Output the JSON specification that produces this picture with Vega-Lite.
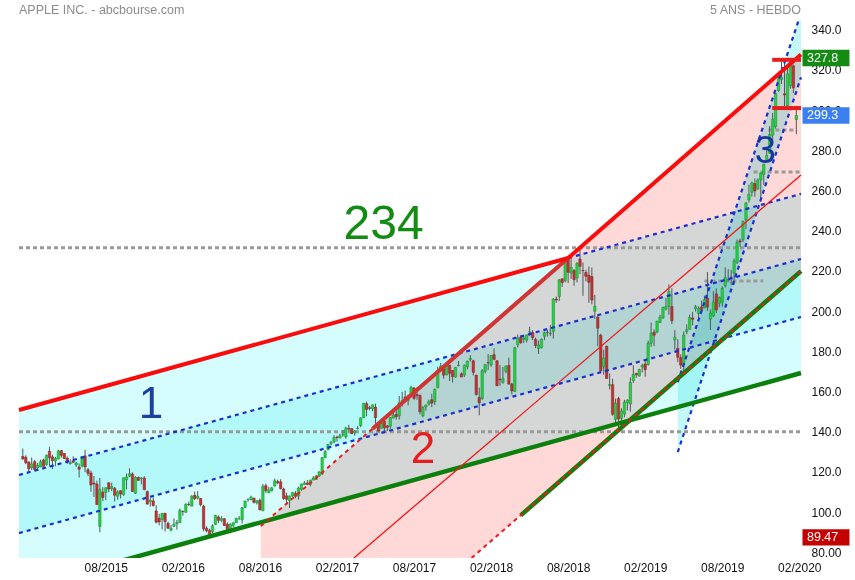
{
"$schema":"https://vega.github.io/schema/vega-lite/v6.json",
"width":792,"height":538,
"autosize":{"type":"none"},
"padding":{"left":14,"top":20,"right":49,"bottom":22},
"background":"white",
"config":{"view":{"stroke":null},"font":"Liberation Sans"},
"datasets":{
"candles":[
{"d":"2015-02-23","o":129.7,"h":133.6,"l":128.0,"c":128.5},
{"d":"2015-03-02","o":129.3,"h":130.3,"l":125.8,"c":126.6},
{"d":"2015-03-09","o":127.0,"h":127.2,"l":121.6,"c":123.6},
{"d":"2015-03-16","o":124.0,"h":129.2,"l":122.9,"c":126.0},
{"d":"2015-03-23","o":127.1,"h":128.0,"l":122.6,"c":123.3},
{"d":"2015-03-30","o":124.0,"h":126.5,"l":122.9,"c":125.3},
{"d":"2015-04-06","o":124.5,"h":128.1,"l":124.3,"c":127.1},
{"d":"2015-04-13","o":128.0,"h":128.6,"l":124.6,"c":124.8},
{"d":"2015-04-20","o":125.6,"h":130.6,"l":125.2,"c":130.3},
{"d":"2015-04-27","o":132.3,"h":134.5,"l":124.6,"c":129.0},
{"d":"2015-05-04","o":129.5,"h":130.6,"l":123.4,"c":127.6},
{"d":"2015-05-11","o":127.4,"h":129.5,"l":124.8,"c":128.8},
{"d":"2015-05-18","o":128.4,"h":133.0,"l":128.4,"c":132.5},
{"d":"2015-05-25","o":132.6,"h":132.9,"l":129.1,"c":130.3},
{"d":"2015-06-01","o":131.2,"h":131.4,"l":128.4,"c":128.7},
{"d":"2015-06-08","o":128.9,"h":129.7,"l":126.0,"c":127.2},
{"d":"2015-06-15","o":126.1,"h":128.3,"l":125.7,"c":126.6},
{"d":"2015-06-22","o":127.5,"h":129.8,"l":126.4,"c":126.8},
{"d":"2015-06-29","o":125.5,"h":127.0,"l":124.5,"c":126.4},
{"d":"2015-07-06","o":124.5,"h":126.2,"l":119.2,"c":123.3},
{"d":"2015-07-13","o":125.0,"h":129.6,"l":124.3,"c":129.6},
{"d":"2015-07-20","o":130.0,"h":133.0,"l":121.9,"c":124.5},
{"d":"2015-07-27","o":123.1,"h":124.0,"l":119.9,"c":121.3},
{"d":"2015-08-03","o":121.5,"h":122.6,"l":112.1,"c":115.5},
{"d":"2015-08-10","o":116.5,"h":120.0,"l":109.6,"c":116.0},
{"d":"2015-08-17","o":116.0,"h":117.7,"l":105.5,"c":105.8},
{"d":"2015-08-24","o":94.9,"h":119.0,"l":92.0,"c":113.3},
{"d":"2015-08-31","o":112.0,"h":114.4,"l":107.4,"c":109.3},
{"d":"2015-09-07","o":111.8,"h":114.2,"l":108.0,"c":114.2},
{"d":"2015-09-14","o":116.6,"h":116.9,"l":111.9,"c":113.5},
{"d":"2015-09-21","o":113.7,"h":116.7,"l":112.4,"c":114.7},
{"d":"2015-09-28","o":113.9,"h":114.6,"l":107.3,"c":110.4},
{"d":"2015-10-05","o":109.9,"h":112.8,"l":108.2,"c":112.1},
{"d":"2015-10-12","o":112.7,"h":112.8,"l":108.8,"c":111.0},
{"d":"2015-10-19","o":110.8,"h":119.2,"l":110.1,"c":119.1},
{"d":"2015-10-26","o":118.1,"h":121.2,"l":113.3,"c":119.5},
{"d":"2015-11-02","o":119.9,"h":123.8,"l":119.4,"c":121.1},
{"d":"2015-11-09","o":121.0,"h":121.8,"l":112.1,"c":112.3},
{"d":"2015-11-16","o":111.4,"h":119.9,"l":111.0,"c":119.3},
{"d":"2015-11-23","o":119.3,"h":119.7,"l":117.5,"c":117.8},
{"d":"2015-11-30","o":118.8,"h":119.4,"l":115.8,"c":119.0},
{"d":"2015-12-07","o":119.0,"h":119.9,"l":112.9,"c":113.2},
{"d":"2015-12-14","o":112.2,"h":112.8,"l":105.8,"c":106.0},
{"d":"2015-12-21","o":107.3,"h":109.0,"l":104.8,"c":108.0},
{"d":"2015-12-28","o":107.6,"h":109.4,"l":104.8,"c":105.3},
{"d":"2016-01-04","o":102.6,"h":105.4,"l":96.4,"c":97.0},
{"d":"2016-01-11","o":99.0,"h":101.2,"l":95.4,"c":97.1},
{"d":"2016-01-18","o":98.4,"h":101.5,"l":93.4,"c":101.4},
{"d":"2016-01-25","o":101.5,"h":101.5,"l":92.4,"c":97.3},
{"d":"2016-02-01","o":96.5,"h":97.3,"l":93.7,"c":94.0},
{"d":"2016-02-08","o":93.1,"h":95.7,"l":92.4,"c":94.0},
{"d":"2016-02-15","o":95.0,"h":98.9,"l":94.6,"c":96.0},
{"d":"2016-02-22","o":96.3,"h":98.1,"l":93.3,"c":96.9},
{"d":"2016-02-29","o":96.9,"h":103.8,"l":96.7,"c":103.0},
{"d":"2016-03-07","o":102.4,"h":102.8,"l":100.2,"c":102.3},
{"d":"2016-03-14","o":101.9,"h":106.5,"l":101.8,"c":105.9},
{"d":"2016-03-21","o":105.9,"h":107.3,"l":105.1,"c":105.7},
{"d":"2016-03-28","o":105.0,"h":110.4,"l":104.9,"c":110.0},
{"d":"2016-04-04","o":110.4,"h":112.2,"l":108.0,"c":108.7},
{"d":"2016-04-11","o":109.0,"h":112.4,"l":108.3,"c":109.9},
{"d":"2016-04-18","o":108.9,"h":109.0,"l":104.9,"c":105.7},
{"d":"2016-04-25","o":105.0,"h":105.7,"l":92.5,"c":93.7},
{"d":"2016-05-02","o":94.0,"h":95.0,"l":92.0,"c":92.7},
{"d":"2016-05-09","o":93.0,"h":93.8,"l":89.47,"c":90.5},
{"d":"2016-05-16","o":92.4,"h":95.9,"l":91.4,"c":95.2},
{"d":"2016-05-23","o":95.9,"h":100.7,"l":95.6,"c":100.35},
{"d":"2016-05-30","o":99.6,"h":100.4,"l":96.6,"c":97.9},
{"d":"2016-06-06","o":98.0,"h":100.0,"l":97.0,"c":98.8},
{"d":"2016-06-13","o":98.7,"h":99.1,"l":95.3,"c":95.3},
{"d":"2016-06-20","o":96.0,"h":96.9,"l":91.5,"c":93.4},
{"d":"2016-06-27","o":93.0,"h":96.5,"l":91.5,"c":95.9},
{"d":"2016-07-04","o":95.4,"h":96.9,"l":94.4,"c":96.7},
{"d":"2016-07-11","o":96.75,"h":99.3,"l":96.7,"c":98.8},
{"d":"2016-07-18","o":98.7,"h":100.1,"l":98.3,"c":98.7},
{"d":"2016-07-25","o":98.25,"h":104.6,"l":96.4,"c":104.2},
{"d":"2016-08-01","o":104.4,"h":107.7,"l":104.0,"c":107.5},
{"d":"2016-08-08","o":108.2,"h":108.9,"l":107.2,"c":108.2},
{"d":"2016-08-15","o":108.1,"h":110.2,"l":108.1,"c":109.4},
{"d":"2016-08-22","o":108.9,"h":109.3,"l":106.3,"c":106.9},
{"d":"2016-08-29","o":106.6,"h":108.0,"l":105.8,"c":107.7},
{"d":"2016-09-05","o":107.9,"h":108.8,"l":102.95,"c":103.1},
{"d":"2016-09-12","o":102.65,"h":116.0,"l":102.5,"c":114.9},
{"d":"2016-09-19","o":115.2,"h":116.2,"l":111.5,"c":112.7},
{"d":"2016-09-26","o":111.6,"h":114.6,"l":111.55,"c":113.05},
{"d":"2016-10-03","o":112.7,"h":114.6,"l":112.3,"c":114.1},
{"d":"2016-10-10","o":115.0,"h":118.7,"l":114.7,"c":117.6},
{"d":"2016-10-17","o":117.3,"h":118.2,"l":115.9,"c":116.6},
{"d":"2016-10-24","o":117.1,"h":118.4,"l":113.3,"c":113.7},
{"d":"2016-10-31","o":113.5,"h":114.2,"l":108.1,"c":108.8},
{"d":"2016-11-07","o":110.1,"h":111.7,"l":105.8,"c":108.4},
{"d":"2016-11-14","o":107.7,"h":110.2,"l":104.1,"c":110.1},
{"d":"2016-11-21","o":110.1,"h":112.0,"l":109.6,"c":111.8},
{"d":"2016-11-28","o":111.4,"h":112.5,"l":108.9,"c":109.9},
{"d":"2016-12-05","o":110.0,"h":114.7,"l":108.2,"c":114.0},
{"d":"2016-12-12","o":113.3,"h":116.2,"l":112.5,"c":116.0},
{"d":"2016-12-19","o":115.8,"h":117.5,"l":115.6,"c":116.5},
{"d":"2016-12-26","o":116.5,"h":118.0,"l":115.4,"c":115.8},
{"d":"2017-01-02","o":115.8,"h":118.2,"l":114.8,"c":117.9},
{"d":"2017-01-09","o":117.95,"h":119.9,"l":117.9,"c":119.0},
{"d":"2017-01-16","o":118.3,"h":120.5,"l":118.2,"c":120.0},
{"d":"2017-01-23","o":120.0,"h":122.4,"l":119.5,"c":122.0},
{"d":"2017-01-30","o":120.9,"h":129.4,"l":120.6,"c":129.1},
{"d":"2017-02-06","o":129.1,"h":132.9,"l":128.9,"c":132.1},
{"d":"2017-02-13","o":133.1,"h":135.9,"l":132.8,"c":135.7},
{"d":"2017-02-20","o":136.2,"h":137.5,"l":135.3,"c":136.7},
{"d":"2017-02-27","o":137.1,"h":140.3,"l":136.3,"c":139.1},
{"d":"2017-03-06","o":139.4,"h":140.0,"l":137.05,"c":139.1},
{"d":"2017-03-13","o":138.85,"h":141.0,"l":138.8,"c":140.0},
{"d":"2017-03-20","o":140.4,"h":142.8,"l":139.6,"c":140.6},
{"d":"2017-03-27","o":139.4,"h":144.5,"l":138.6,"c":143.7},
{"d":"2017-04-03","o":143.7,"h":145.5,"l":142.2,"c":143.3},
{"d":"2017-04-10","o":143.6,"h":143.9,"l":140.9,"c":141.05},
{"d":"2017-04-17","o":141.5,"h":142.9,"l":140.1,"c":142.3},
{"d":"2017-04-24","o":143.5,"h":144.9,"l":143.2,"c":143.65},
{"d":"2017-05-01","o":145.1,"h":149.0,"l":144.3,"c":148.96},
{"d":"2017-05-08","o":149.0,"h":156.4,"l":149.0,"c":156.1},
{"d":"2017-05-15","o":156.0,"h":157.0,"l":149.7,"c":153.1},
{"d":"2017-05-22","o":154.0,"h":154.9,"l":152.6,"c":153.6},
{"d":"2017-05-29","o":153.4,"h":155.45,"l":152.2,"c":155.45},
{"d":"2017-06-05","o":154.3,"h":156.0,"l":146.0,"c":149.0},
{"d":"2017-06-12","o":145.7,"h":146.1,"l":142.2,"c":142.3},
{"d":"2017-06-19","o":143.7,"h":147.2,"l":143.7,"c":146.3},
{"d":"2017-06-26","o":147.2,"h":148.3,"l":142.3,"c":144.0},
{"d":"2017-07-03","o":144.9,"h":145.3,"l":142.4,"c":144.2},
{"d":"2017-07-10","o":144.7,"h":149.3,"l":143.4,"c":149.0},
{"d":"2017-07-17","o":148.8,"h":151.7,"l":148.7,"c":150.3},
{"d":"2017-07-24","o":150.6,"h":154.0,"l":148.1,"c":149.5},
{"d":"2017-07-31","o":149.9,"h":159.75,"l":148.1,"c":156.4},
{"d":"2017-08-07","o":157.1,"h":161.8,"l":154.6,"c":157.5},
{"d":"2017-08-14","o":159.3,"h":162.5,"l":156.7,"c":157.5},
{"d":"2017-08-21","o":157.5,"h":160.5,"l":155.1,"c":159.9},
{"d":"2017-08-28","o":160.1,"h":164.9,"l":159.9,"c":164.05},
{"d":"2017-09-04","o":163.75,"h":164.25,"l":157.9,"c":158.6},
{"d":"2017-09-11","o":160.5,"h":164.0,"l":157.9,"c":159.9},
{"d":"2017-09-18","o":160.1,"h":160.5,"l":150.6,"c":151.9},
{"d":"2017-09-25","o":150.0,"h":154.7,"l":149.2,"c":154.1},
{"d":"2017-10-02","o":154.3,"h":155.5,"l":152.5,"c":155.3},
{"d":"2017-10-09","o":155.8,"h":158.0,"l":155.0,"c":157.0},
{"d":"2017-10-16","o":157.9,"h":160.9,"l":154.2,"c":156.25},
{"d":"2017-10-23","o":156.9,"h":163.6,"l":155.3,"c":163.05},
{"d":"2017-10-30","o":163.9,"h":174.3,"l":163.7,"c":172.5},
{"d":"2017-11-06","o":172.4,"h":176.2,"l":171.7,"c":174.7},
{"d":"2017-11-13","o":173.5,"h":174.5,"l":168.4,"c":170.15},
{"d":"2017-11-20","o":170.3,"h":175.5,"l":170.1,"c":175.0},
{"d":"2017-11-27","o":175.05,"h":175.1,"l":167.2,"c":171.05},
{"d":"2017-12-04","o":172.5,"h":172.6,"l":166.5,"c":169.4},
{"d":"2017-12-11","o":169.2,"h":174.2,"l":168.9,"c":174.0},
{"d":"2017-12-18","o":174.9,"h":177.2,"l":174.5,"c":175.0},
{"d":"2017-12-25","o":170.8,"h":171.5,"l":169.2,"c":169.2},
{"d":"2018-01-01","o":170.2,"h":175.4,"l":169.3,"c":175.0},
{"d":"2018-01-08","o":174.35,"h":177.4,"l":173.0,"c":177.1},
{"d":"2018-01-15","o":177.9,"h":180.1,"l":176.9,"c":178.5},
{"d":"2018-01-22","o":177.3,"h":177.8,"l":170.0,"c":171.5},
{"d":"2018-01-29","o":170.2,"h":170.2,"l":160.0,"c":160.5},
{"d":"2018-02-05","o":159.1,"h":163.9,"l":150.2,"c":156.4},
{"d":"2018-02-12","o":158.5,"h":173.1,"l":157.9,"c":172.4},
{"d":"2018-02-19","o":172.05,"h":174.8,"l":171.0,"c":175.5},
{"d":"2018-02-26","o":176.35,"h":180.6,"l":172.7,"c":176.2},
{"d":"2018-03-05","o":175.2,"h":180.0,"l":174.3,"c":180.0},
{"d":"2018-03-12","o":180.3,"h":183.5,"l":177.6,"c":178.0},
{"d":"2018-03-19","o":177.3,"h":177.5,"l":164.9,"c":164.9},
{"d":"2018-03-26","o":168.1,"h":175.2,"l":164.9,"c":167.8},
{"d":"2018-04-02","o":166.6,"h":174.2,"l":165.9,"c":168.4},
{"d":"2018-04-09","o":172.0,"h":175.0,"l":171.0,"c":174.7},
{"d":"2018-04-16","o":175.0,"h":178.9,"l":165.5,"c":165.7},
{"d":"2018-04-23","o":165.7,"h":166.3,"l":160.6,"c":162.3},
{"d":"2018-04-30","o":162.1,"h":184.25,"l":161.8,"c":183.8},
{"d":"2018-05-07","o":185.3,"h":190.4,"l":184.0,"c":188.6},
{"d":"2018-05-14","o":189.0,"h":189.5,"l":185.7,"c":186.3},
{"d":"2018-05-21","o":188.0,"h":189.7,"l":186.1,"c":188.6},
{"d":"2018-05-28","o":187.6,"h":190.3,"l":186.4,"c":190.2},
{"d":"2018-06-04","o":191.6,"h":194.2,"l":189.6,"c":191.7},
{"d":"2018-06-11","o":191.35,"h":192.6,"l":187.6,"c":188.8},
{"d":"2018-06-18","o":187.9,"h":188.8,"l":183.6,"c":184.9},
{"d":"2018-06-25","o":183.4,"h":187.3,"l":180.7,"c":185.1},
{"d":"2018-07-02","o":183.8,"h":188.4,"l":183.4,"c":188.0},
{"d":"2018-07-09","o":189.5,"h":191.8,"l":187.6,"c":191.3},
{"d":"2018-07-16","o":191.5,"h":192.65,"l":189.3,"c":191.4},
{"d":"2018-07-23","o":190.7,"h":195.0,"l":189.6,"c":191.0},
{"d":"2018-07-30","o":191.9,"h":208.4,"l":188.3,"c":208.0},
{"d":"2018-08-06","o":208.0,"h":209.3,"l":206.1,"c":207.5},
{"d":"2018-08-13","o":209.3,"h":217.95,"l":207.0,"c":217.6},
{"d":"2018-08-20","o":218.1,"h":218.2,"l":214.0,"c":216.2},
{"d":"2018-08-27","o":217.15,"h":228.9,"l":216.3,"c":227.6},
{"d":"2018-09-03","o":228.4,"h":229.2,"l":216.0,"c":221.3},
{"d":"2018-09-10","o":220.95,"h":229.4,"l":218.0,"c":223.8},
{"d":"2018-09-17","o":222.15,"h":222.95,"l":214.6,"c":217.7},
{"d":"2018-09-24","o":218.5,"h":226.4,"l":216.3,"c":225.7},
{"d":"2018-10-01","o":227.95,"h":233.47,"l":220.4,"c":224.3},
{"d":"2018-10-08","o":222.2,"h":226.2,"l":209.6,"c":222.1},
{"d":"2018-10-15","o":221.2,"h":222.6,"l":216.8,"c":219.3},
{"d":"2018-10-22","o":219.8,"h":224.2,"l":206.1,"c":216.3},
{"d":"2018-10-29","o":219.2,"h":223.7,"l":205.4,"c":207.5},
{"d":"2018-11-05","o":201.9,"h":210.1,"l":198.2,"c":204.5},
{"d":"2018-11-12","o":199.0,"h":199.85,"l":184.5,"c":193.5},
{"d":"2018-11-19","o":190.0,"h":190.7,"l":172.1,"c":172.3},
{"d":"2018-11-26","o":174.2,"h":182.8,"l":170.3,"c":178.6},
{"d":"2018-12-03","o":184.5,"h":184.9,"l":168.3,"c":168.5},
{"d":"2018-12-10","o":165.0,"h":171.0,"l":163.0,"c":165.5},
{"d":"2018-12-17","o":165.45,"h":168.35,"l":150.0,"c":150.7},
{"d":"2018-12-24","o":148.15,"h":158.5,"l":146.6,"c":156.2},
{"d":"2018-12-31","o":158.5,"h":159.4,"l":142.0,"c":148.3},
{"d":"2019-01-07","o":148.7,"h":153.7,"l":145.8,"c":152.3},
{"d":"2019-01-14","o":150.85,"h":157.9,"l":149.2,"c":156.8},
{"d":"2019-01-21","o":156.4,"h":158.1,"l":152.6,"c":157.8},
{"d":"2019-01-28","o":155.8,"h":169.0,"l":152.0,"c":166.5},
{"d":"2019-02-04","o":167.4,"h":175.1,"l":166.3,"c":170.4},
{"d":"2019-02-11","o":171.05,"h":171.2,"l":168.8,"c":170.4},
{"d":"2019-02-18","o":169.7,"h":173.3,"l":169.5,"c":173.0},
{"d":"2019-02-25","o":174.2,"h":175.9,"l":171.5,"c":175.0},
{"d":"2019-03-04","o":175.7,"h":177.75,"l":169.4,"c":172.9},
{"d":"2019-03-11","o":175.5,"h":187.3,"l":174.9,"c":186.1},
{"d":"2019-03-18","o":186.0,"h":196.3,"l":184.3,"c":191.05},
{"d":"2019-03-25","o":191.5,"h":192.9,"l":184.6,"c":190.0},
{"d":"2019-04-01","o":191.6,"h":197.1,"l":191.0,"c":197.0},
{"d":"2019-04-08","o":196.4,"h":200.2,"l":196.2,"c":198.9},
{"d":"2019-04-15","o":198.6,"h":204.15,"l":198.2,"c":203.9},
{"d":"2019-04-22","o":203.0,"h":208.5,"l":202.3,"c":204.3},
{"d":"2019-04-29","o":204.4,"h":215.3,"l":200.2,"c":211.75},
{"d":"2019-05-06","o":204.3,"h":213.4,"l":195.6,"c":197.2},
{"d":"2019-05-13","o":187.7,"h":192.5,"l":182.8,"c":189.0},
{"d":"2019-05-20","o":183.5,"h":188.0,"l":176.6,"c":179.0},
{"d":"2019-05-27","o":178.9,"h":180.6,"l":173.3,"c":175.1},
{"d":"2019-06-03","o":175.6,"h":191.9,"l":170.3,"c":190.15},
{"d":"2019-06-10","o":191.8,"h":195.4,"l":190.5,"c":192.7},
{"d":"2019-06-17","o":192.9,"h":200.3,"l":192.8,"c":198.8},
{"d":"2019-06-24","o":198.6,"h":201.6,"l":194.9,"c":197.9},
{"d":"2019-07-01","o":203.2,"h":205.1,"l":201.8,"c":204.2},
{"d":"2019-07-08","o":200.8,"h":204.4,"l":198.65,"c":203.3},
{"d":"2019-07-15","o":204.1,"h":207.2,"l":201.8,"c":202.6},
{"d":"2019-07-22","o":203.65,"h":209.7,"l":203.4,"c":207.7},
{"d":"2019-07-29","o":208.5,"h":221.4,"l":202.1,"c":204.0},
{"d":"2019-08-05","o":198.0,"h":202.8,"l":192.6,"c":201.0},
{"d":"2019-08-12","o":199.6,"h":212.1,"l":199.0,"c":206.5},
{"d":"2019-08-19","o":210.6,"h":213.35,"l":201.0,"c":202.6},
{"d":"2019-08-26","o":205.9,"h":209.3,"l":203.9,"c":208.7},
{"d":"2019-09-02","o":206.4,"h":214.4,"l":204.2,"c":213.3},
{"d":"2019-09-09","o":214.8,"h":223.7,"l":213.7,"c":218.75},
{"d":"2019-09-16","o":217.7,"h":222.9,"l":216.6,"c":217.7},
{"d":"2019-09-23","o":218.95,"h":222.5,"l":215.1,"c":218.8},
{"d":"2019-09-30","o":220.9,"h":228.2,"l":215.1,"c":227.0},
{"d":"2019-10-07","o":226.3,"h":237.6,"l":225.4,"c":236.2},
{"d":"2019-10-14","o":236.95,"h":238.1,"l":233.9,"c":236.4},
{"d":"2019-10-21","o":237.5,"h":247.0,"l":236.4,"c":246.6},
{"d":"2019-10-28","o":247.4,"h":256.2,"l":242.8,"c":255.8},
{"d":"2019-11-04","o":257.3,"h":264.9,"l":256.0,"c":260.1},
{"d":"2019-11-11","o":261.1,"h":266.4,"l":259.0,"c":265.8},
{"d":"2019-11-18","o":265.5,"h":268.0,"l":258.9,"c":261.8},
{"d":"2019-11-25","o":262.7,"h":268.0,"l":262.5,"c":267.25},
{"d":"2019-12-02","o":267.3,"h":271.0,"l":256.3,"c":270.7},
{"d":"2019-12-09","o":270.0,"h":275.3,"l":264.9,"c":275.15},
{"d":"2019-12-16","o":277.0,"h":282.7,"l":276.9,"c":279.4},
{"d":"2019-12-23","o":280.5,"h":294.0,"l":280.4,"c":289.8},
{"d":"2019-12-30","o":289.5,"h":300.6,"l":285.2,"c":297.4},
{"d":"2020-01-06","o":293.8,"h":310.4,"l":292.75,"c":310.3},
{"d":"2020-01-13","o":311.6,"h":318.7,"l":311.1,"c":318.7},
{"d":"2020-01-20","o":317.2,"h":327.0,"l":315.0,"c":318.3},
{"d":"2020-01-27","o":310.1,"h":327.3,"l":304.0,"c":309.5},
{"d":"2020-02-03","o":304.3,"h":325.0,"l":302.3,"c":320.0},
{"d":"2020-02-10","o":314.2,"h":327.85,"l":312.6,"c":325.0},
{"d":"2020-02-17","o":324.0,"h":324.65,"l":310.5,"c":313.05},
{"d":"2020-02-24","o":297.3,"h":303.0,"l":290.0,"c":299.3}
],
"lines":[
{"g":"c1ext","d":"2018-09-03","p":228.4},{"g":"c1ext","d":"2020-03-06","p":260.3},
{"g":"b2","d":"2015-02-14","p":120.5},{"g":"b2","d":"2020-03-06","p":227.9},
{"g":"b3","d":"2015-02-14","p":91.6},{"g":"b3","d":"2020-03-06","p":199.1},
{"g":"l3a","d":"2019-05-20","p":166.7},{"g":"l3a","d":"2020-03-06","p":350.2},
{"g":"l3b","d":"2019-05-20","p":131.9},{"g":"l3b","d":"2020-03-06","p":318.3},
{"g":"c1top","d":"2015-02-14","p":152.8},{"g":"c1top","d":"2018-09-03","p":228.4},
{"g":"u2b","d":"2018-09-03","p":228.4},{"g":"u2b","d":"2020-03-06","p":329.6},
{"g":"u2a","d":"2017-05-29","p":143.5},{"g":"u2a","d":"2018-09-03","p":228.4},
{"g":"g1","d":"2015-02-14","p":63.7},{"g":"g1","d":"2020-03-06","p":171.2},
{"g":"l2g","d":"2018-05-14","p":100.4},{"g":"l2g","d":"2020-03-06","p":221.9},
{"g":"l2r","d":"2018-01-18","p":79.2},{"g":"l2r","d":"2020-03-06","p":221.9},
{"g":"u2d","d":"2016-09-07","p":95.1},{"g":"u2d","d":"2017-05-29","p":143.5},
{"g":"m2","d":"2017-04-15","p":79.2},{"g":"m2","d":"2020-03-06","p":269.7}
],
"fills":[
{"g":"c1","d":"2015-02-14","top":152.8,"bot":79.2},{"g":"c1","d":"2015-11-07","top":168.3,"bot":79.2},{"g":"c1","d":"2020-03-06","top":260.3,"bot":171.2},
{"g":"c1band","d":"2015-02-14","top":120.5,"bot":91.6},{"g":"c1band","d":"2020-03-06","top":227.9,"bot":199.1},
{"g":"c2","d":"2016-09-07","top":95.1,"bot":79.2},{"g":"c2","d":"2017-05-29","top":143.5,"bot":79.2},{"g":"c2","d":"2018-01-18","top":186.5,"bot":79.2},{"g":"c2","d":"2018-09-03","top":228.4,"bot":120.9},{"g":"c2","d":"2020-03-06","top":329.6,"bot":221.9},
{"g":"c3","d":"2019-05-20","top":166.7,"bot":131.9},{"g":"c3","d":"2020-03-01","top":346.8,"bot":314.8},{"g":"c3","d":"2020-03-06","top":346.8,"bot":318.3}
],
"levels":[
{"g":"gray","d":"2015-02-14","d2":"2020-03-06","p":233.47},
{"g":"gray","d":"2015-02-14","d2":"2020-03-06","p":142.0},
{"g":"gray","d":"2019-07-22","d2":"2019-12-08","p":217.0},
{"g":"gray","d":"2019-11-15","d2":"2020-03-06","p":271.2},
{"g":"gray","d":"2019-12-20","d2":"2020-02-25","p":292.1},
{"g":"red","d":"2019-12-29","d2":"2020-03-06","p":327.0},
{"g":"red","d":"2019-12-29","d2":"2020-03-06","p":303.0}
],
"tags":[{"p":327.85,"t":"327.8"},{"p":299.3,"t":"299.3"},{"p":89.47,"t":"89.47"}]
},
"layer":[
{"data":{"name":"fills"},"transform":[{"filter":"datum.g==='c1'"}],
 "mark":{"type":"area","color":"#d5fdfd","blend":"multiply"},
 "encoding":{
  "x":{"field":"d","type":"temporal","title":null,
   "scale":{"type":"utc","domain":[{"year":2015,"month":2,"date":14,"utc":true},{"year":2020,"month":3,"date":6,"utc":true}]},
   "axis":{"values":[{"year":2015,"month":9,"date":7,"utc":true},{"year":2016,"month":3,"date":7,"utc":true},{"year":2016,"month":9,"date":5,"utc":true},{"year":2017,"month":3,"date":6,"utc":true},{"year":2017,"month":9,"date":4,"utc":true},{"year":2018,"month":3,"date":5,"utc":true},{"year":2018,"month":9,"date":3,"utc":true},{"year":2019,"month":3,"date":4,"utc":true},{"year":2019,"month":9,"date":2,"utc":true},{"year":2020,"month":3,"date":2,"utc":true}],
    "labelExpr":"utcFormat(datum.value - 1728000000, '%m/%Y')","grid":false,"domain":false,"ticks":false,"tickSize":0,"labelPadding":4,"labelFontSize":12,"labelColor":"#111","labelFont":"Liberation Sans","labelFlush":false,"labelOverlap":false}},
  "y":{"field":"top","type":"quantitative","title":null,
   "scale":{"domain":[79.2,346.8],"nice":false,"zero":false},
   "axis":{"orient":"right","values":[80,100,120,140,160,180,200,220,240,260,280,300,320,340],"format":".4r","grid":false,"domain":false,"ticks":false,"tickSize":0,"labelPadding":5,"labelFontSize":12,"labelColor":"#111","labelFont":"Liberation Sans","labelBaseline":"alphabetic","labelFlush":false,"labelOverlap":false}},
  "y2":{"field":"bot"}}},
{"data":{"name":"fills"},"transform":[{"filter":"datum.g==='c1band'"}],
 "mark":{"type":"area","color":"#d8fbfb","blend":"multiply"},
 "encoding":{"x":{"field":"d","type":"temporal","title":null},"y":{"field":"top","type":"quantitative","title":null},"y2":{"field":"bot"}}},
{"data":{"name":"fills"},"transform":[{"filter":"datum.g==='c2'"}],
 "mark":{"type":"area","color":"#ffd8d8","blend":"multiply"},
 "encoding":{"x":{"field":"d","type":"temporal","title":null},"y":{"field":"top","type":"quantitative","title":null},"y2":{"field":"bot"}}},
{"data":{"name":"fills"},"transform":[{"filter":"datum.g==='c3'"}],
 "mark":{"type":"area","color":"#c4f8f8","blend":"multiply"},
 "encoding":{"x":{"field":"d","type":"temporal","title":null},"y":{"field":"top","type":"quantitative","title":null},"y2":{"field":"bot"}}},
{"data":{"name":"levels"},"transform":[{"filter":"datum.g==='gray'"}],
 "mark":{"type":"rule","clip":true,"color":"#999999","strokeWidth":3,"strokeDash":[4,3]},
 "encoding":{"x":{"field":"d","type":"temporal","title":null},"x2":{"field":"d2"},"y":{"field":"p","type":"quantitative","title":null}}},
{"data":{"name":"candles"},
 "mark":{"type":"rule","clip":true,"color":"#4d5a58","strokeWidth":1},
 "encoding":{"x":{"field":"d","type":"temporal","title":null},"y":{"field":"l","type":"quantitative","title":null},"y2":{"field":"h"}}},
{"data":{"name":"candles"},
 "mark":{"type":"bar","clip":true,"size":2.4,"strokeWidth":0.5},
 "encoding":{"x":{"field":"d","type":"temporal","title":null},"y":{"field":"o","type":"quantitative","title":null},"y2":{"field":"c"},
  "fill":{"condition":{"test":"datum.c >= datum.o","value":"#27d044"},"value":"#bb3434"},
  "stroke":{"condition":{"test":"datum.c >= datum.o","value":"#168a2a"},"value":"#8a2222"}}},
{"data":{"name":"lines"},"transform":[{"filter":"indexof(['c1ext','b2','b3','l3a','l3b'], datum.g) >= 0"}],
 "mark":{"type":"line","clip":true,"color":"#1a2fd0","strokeWidth":2.2,"strokeDash":[4,4]},
 "encoding":{"x":{"field":"d","type":"temporal","title":null},"y":{"field":"p","type":"quantitative","title":null},"detail":{"field":"g"}}},
{"data":{"name":"lines"},"transform":[{"filter":"indexof(['g1','l2g'], datum.g) >= 0"}],
 "mark":{"type":"line","clip":true,"color":"#0c800c","strokeWidth":4.5},
 "encoding":{"x":{"field":"d","type":"temporal","title":null},"y":{"field":"p","type":"quantitative","title":null},"detail":{"field":"g"}}},
{"data":{"name":"lines"},"transform":[{"filter":"indexof(['l2r','u2d'], datum.g) >= 0"}],
 "mark":{"type":"line","clip":true,"color":"#f01818","strokeWidth":2,"strokeDash":[4,4]},
 "encoding":{"x":{"field":"d","type":"temporal","title":null},"y":{"field":"p","type":"quantitative","title":null},"detail":{"field":"g"}}},
{"data":{"name":"lines"},"transform":[{"filter":"datum.g==='m2'"}],
 "mark":{"type":"line","clip":true,"color":"#f01818","strokeWidth":1.3},
 "encoding":{"x":{"field":"d","type":"temporal","title":null},"y":{"field":"p","type":"quantitative","title":null}}},
{"data":{"name":"lines"},"transform":[{"filter":"datum.g==='u2a'"}],
 "mark":{"type":"line","clip":true,"color":"#d23434","strokeWidth":4},
 "encoding":{"x":{"field":"d","type":"temporal","title":null},"y":{"field":"p","type":"quantitative","title":null}}},
{"data":{"name":"lines"},"transform":[{"filter":"indexof(['c1top','u2b'], datum.g) >= 0"}],
 "mark":{"type":"line","clip":true,"color":"#f80c0c","strokeWidth":4},
 "encoding":{"x":{"field":"d","type":"temporal","title":null},"y":{"field":"p","type":"quantitative","title":null},"detail":{"field":"g"}}},
{"data":{"name":"levels"},"transform":[{"filter":"datum.g==='red'"}],
 "mark":{"type":"rule","clip":true,"color":"#e81c1c","strokeWidth":4},
 "encoding":{"x":{"field":"d","type":"temporal","title":null},"x2":{"field":"d2"},"y":{"field":"p","type":"quantitative","title":null}}},
{"data":{"values":[{"d":"2017-06-24","p":244.8,"t":"234"}]},
 "mark":{"type":"text","fontSize":48,"color":"#128c12","font":"Liberation Sans","baseline":"middle","align":"center"},
 "encoding":{"x":{"field":"d","type":"temporal","title":null},"y":{"field":"p","type":"quantitative","title":null},"text":{"field":"t"}}},
{"data":{"values":[{"d":"2015-12-23","p":155.3,"t":"1"}]},
 "mark":{"type":"text","fontSize":44,"color":"#1c3fa0","font":"Liberation Sans","baseline":"middle","align":"center"},
 "encoding":{"x":{"field":"d","type":"temporal","title":null},"y":{"field":"p","type":"quantitative","title":null},"text":{"field":"t"}}},
{"data":{"values":[{"d":"2017-09-25","p":132.9,"t":"2"}]},
 "mark":{"type":"text","fontSize":44,"color":"#e81c1c","font":"Liberation Sans","baseline":"middle","align":"center"},
 "encoding":{"x":{"field":"d","type":"temporal","title":null},"y":{"field":"p","type":"quantitative","title":null},"text":{"field":"t"}}},
{"data":{"values":[{"d":"2019-12-13","p":281.2,"t":"3"}]},
 "mark":{"type":"text","fontSize":38,"color":"#1a35a0","font":"Liberation Sans","baseline":"middle","align":"center"},
 "encoding":{"x":{"field":"d","type":"temporal","title":null},"y":{"field":"p","type":"quantitative","title":null},"text":{"field":"t"}}},
{"data":{"values":[{"d":"2015-02-14","p":352,"t":"APPLE INC. - abcbourse.com"}]},
 "mark":{"type":"text","fontSize":12.5,"color":"#8c8c8c","font":"Liberation Sans","baseline":"middle","align":"left"},
 "encoding":{"x":{"field":"d","type":"temporal","title":null},"y":{"field":"p","type":"quantitative","title":null},"text":{"field":"t"}}},
{"data":{"values":[{"d":"2020-03-06","p":352,"t":"5 ANS - HEBDO"}]},
 "mark":{"type":"text","fontSize":12.5,"color":"#8c8c8c","font":"Liberation Sans","baseline":"middle","align":"right"},
 "encoding":{"x":{"field":"d","type":"temporal","title":null},"y":{"field":"p","type":"quantitative","title":null},"text":{"field":"t"}}},
{"data":{"name":"tags"},
 "mark":{"type":"point","filled":true,"opacity":1,"shape":"M-1,-0.35L1,-0.35L1,0.35L-1,0.35Z","size":2209,"strokeWidth":0},
 "encoding":{"x":{"datum":{"year":2020,"month":5,"date":4,"utc":true},"type":"temporal"},"y":{"field":"p","type":"quantitative","title":null},
  "fill":{"field":"t","type":"nominal","legend":null,"scale":{"domain":["327.8","299.3","89.47"],"range":["#148c14","#3b7ff0","#c40000"]}}}},
{"data":{"name":"tags"},
 "mark":{"type":"text","fontSize":12.5,"color":"white","font":"Liberation Sans","baseline":"middle","align":"left","dx":-19},
 "encoding":{"x":{"datum":{"year":2020,"month":5,"date":4,"utc":true},"type":"temporal"},"y":{"field":"p","type":"quantitative","title":null},"text":{"field":"t"}}}
]
}
